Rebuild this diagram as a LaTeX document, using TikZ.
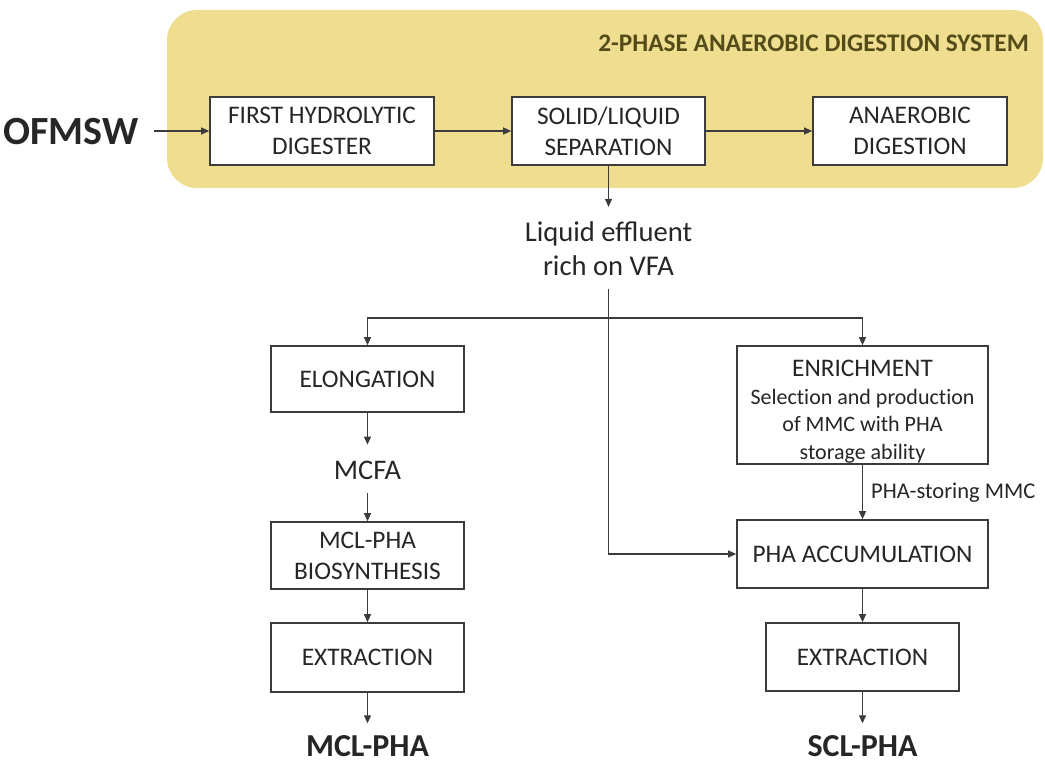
\documentclass[tikz,border=0pt]{standalone}
\usepackage{fontspec}
\setmainfont{Carlito}
\newfontfamily\plainlig{Carlito}[Ligatures=NoCommon]
\usetikzlibrary{arrows.meta}
\definecolor{panel}{RGB}{239,222,144}
\definecolor{paneltitle}{RGB}{84,76,24}
\definecolor{ink}{RGB}{38,38,38}
\definecolor{wire}{RGB}{60,60,60}
\newcommand{\fsz}[2]{\fontsize{#1}{#2}\selectfont}

\begin{document}
\begin{tikzpicture}[x=1pt,y=-1pt,
  stage/.style={draw=wire, line width=1.6pt, fill=white, align=center,
    text=ink, inner sep=0pt, font=\fsz{25.3}{31}},
  product/.style={text=ink, inner sep=0pt, text depth=0pt, align=center},
  arr/.style={draw=wire, line width=1.1pt, -{Triangle[length=8pt,width=7pt]}}]
\useasboundingbox (0,0) rectangle (1045,765);

% two-phase digestion panel
\fill[panel, rounded corners=30pt] (167,10) rectangle (1043,188);
\node[anchor=east, inner sep=0pt, text=paneltitle, font=\bfseries\fsz{25.3}{30}]
  (paneltitle) at (1029,43) {2-PHASE ANAEROBIC DIGESTION SYSTEM};

% feed and digestion stages
\node[product, font=\bfseries\fsz{40}{44}] (ofmsw) at (71,131) {OFMSW};
\node[stage, minimum width=224, minimum height=68] (hydro) at (322,131) {FIRST HYDROLYTIC\\DIGESTER};
\node[stage, minimum width=193, minimum height=68] (sep) at (608.5,131) {SOLID/LIQUID\\SEPARATION};
\node[stage, minimum width=194, minimum height=68] (ad) at (910,131) {ANAEROBIC\\DIGESTION};

\node[product, font=\fsz{28.6}{34}] (liquid) at (608.5,249) {Liquid effluent\\rich on VFA};
\coordinate (split) at (608.5,318);

% MCL-PHA route
\node[stage, minimum width=193, minimum height=66] (elong) at (367.5,379) {ELONGATION};
\node[product, font=\fsz{28.4}{34}] (mcfa) at (367.5,470) {MCFA};
\node[stage, minimum width=193, minimum height=67] (biosyn) at (367.5,555.5) {MCL-PHA\\BIOSYNTHESIS};
\node[stage, minimum width=193, minimum height=69] (extrL) at (367.5,657.5) {EXTRACTION};
\node[product, font=\bfseries\fsz{32}{36}] (mclpha) at (367.5,746) {MCL-PHA};

% SCL-PHA route
\node[stage, minimum width=251, minimum height=118, font=\plainlig\fsz{22}{27.5}] (enrich) at (862.5,405)
  {\rule{0pt}{30pt}{\fsz{25.3}{27.5}ENRICHMENT}\\Selection and production\\of MMC with PHA\\storage ability};
\node[stage, minimum width=251, minimum height=68] (accum) at (862.5,554) {PHA ACCUMULATION};
\node[stage, minimum width=193, minimum height=68] (extrR) at (862.5,657) {EXTRACTION};
\node[product, font=\bfseries\fsz{32}{36}] (sclpha) at (862.5,746) {SCL-PHA};
\node[anchor=west, inner sep=0pt, text=ink, font=\fsz{22.5}{26}] (storing) at (871,493) {PHA-storing MMC};

% connectors
\draw[arr, shorten <=15pt] (ofmsw.east) -- (hydro.west);
\draw[arr] (hydro.east) -- (sep.west);
\draw[arr] (sep.east) -- (ad.west);
\draw[arr, shorten >=15pt] (sep.south) -- (liquid.north);
\draw[arr, shorten <=13pt] (liquid.south) |- (accum.west);
\draw[arr] (split) -| (elong.north);
\draw[arr] (split) -| (enrich.north);
\draw[arr, shorten >=16pt] (elong.south) -- (mcfa.north);
\draw[arr, shorten <=14pt] (mcfa.south) -- (biosyn.north);
\draw[arr] (biosyn.south) -- (extrL.north);
\draw[arr, shorten >=12pt] (extrL.south) -- (mclpha.north);
\draw[arr] (enrich.south) -- (accum.north);
\draw[arr] (accum.south) -- (extrR.north);
\draw[arr, shorten >=12pt] (extrR.south) -- (sclpha.north);
\end{tikzpicture}
\end{document}
